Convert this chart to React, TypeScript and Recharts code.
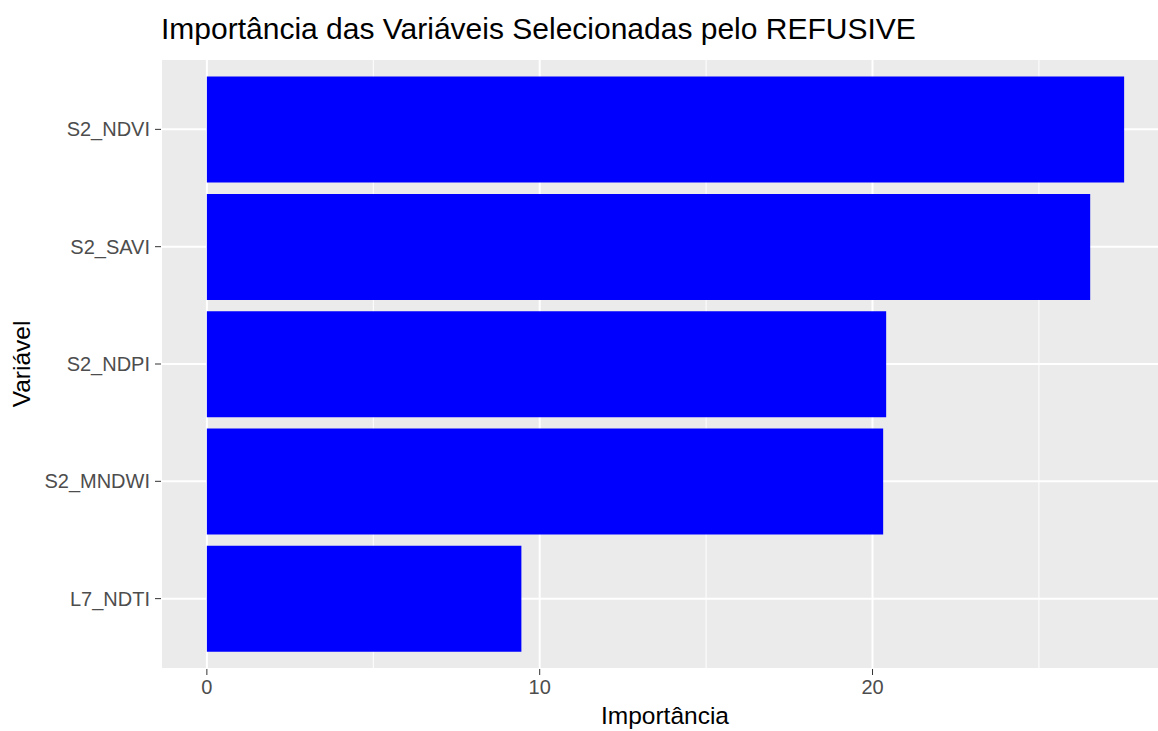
import { BarChart, Bar, XAxis, YAxis, CartesianGrid } from 'recharts';

const variables = ['S2_NDVI', 'S2_SAVI', 'S2_NDPI', 'S2_MNDWI', 'L7_NDTI'];
const importance = [27.56, 26.54, 20.41, 20.32, 9.45];
const majorTicks = [0, 10, 20];
const minorTicks = [5, 15, 25];

const data = variables.map((v, i) => ({ variable: v, importance: importance[i] }));

// ggplot-like 5% expansion, bars start at 0
const maxVal = Math.max(...importance);
const xDomain = [-0.05 * maxVal, maxVal * 1.05];

const FONT = '"Liberation Sans", Arial, sans-serif';

// minor gridlines placed with the same linear mapping the x axis uses
const minorGrid = ({ xAxis, offset }: any) => {
  if (xAxis && typeof xAxis.scale === 'function') return minorTicks.map((t) => xAxis.scale(t));
  const [d0, d1] = xDomain;
  return minorTicks.map((t) => offset.left + ((t - d0) / (d1 - d0)) * offset.width);
};

export default function App() {
  return (
    <div
      style={{
        position: 'absolute',
        left: 0,
        top: 0,
        width: 1158,
        height: 731,
        overflow: 'hidden',
        background: '#fff',
        fontFamily: FONT,
      }}
    >
      {/* title */}
      <div style={{ position: 'absolute', left: 161, top: 14, fontSize: 30, lineHeight: 1, color: '#000', whiteSpace: 'nowrap' }}>
        Importância das Variáveis Selecionadas pelo REFUSIVE
      </div>

      <BarChart
        layout="vertical"
        width={1171}
        height={731}
        data={data}
        margin={{ top: 59, right: 1, bottom: 32, left: 0 }}
        barCategoryGap="5%"
      >
        <CartesianGrid
          fill="#EBEBEB"
          fillOpacity={1}
          stroke="#fff"
          strokeWidth={1}
          horizontal={false}
          verticalCoordinatesGenerator={minorGrid}
        />
        <CartesianGrid stroke="#fff" strokeWidth={2} />
        <XAxis
          type="number"
          domain={xDomain}
          ticks={majorTicks}
          allowDataOverflow
          axisLine={false}
          tickSize={6}
          tickMargin={5}
          tickLine={{ stroke: '#333333' }}
          tick={{ fill: '#4D4D4D', fontSize: 20, fontFamily: FONT }}
        />
        <YAxis
          type="category"
          dataKey="variable"
          width={161}
          axisLine={false}
          padding={{ top: 11.7, bottom: 11.7 }}
          tickSize={6}
          tickMargin={5}
          tickLine={{ stroke: '#333333' }}
          tick={{ fill: '#4D4D4D', fontSize: 20, fontFamily: FONT }}
        />
        <Bar dataKey="importance" fill="#0000FF" isAnimationActive={false} />
      </BarChart>

      {/* axis titles */}
      <div style={{ position: 'absolute', left: 665, top: 704, transform: 'translateX(-50%)', fontSize: 24.5, lineHeight: 1, color: '#000', whiteSpace: 'nowrap' }}>
        Importância
      </div>
      <div
        style={{
          position: 'absolute',
          left: 22,
          top: 364,
          transform: 'translate(-50%, -50%) rotate(-90deg)',
          fontSize: 24.5,
          lineHeight: 1,
          color: '#000',
          whiteSpace: 'nowrap',
        }}
      >
        Variável
      </div>
    </div>
  );
}
